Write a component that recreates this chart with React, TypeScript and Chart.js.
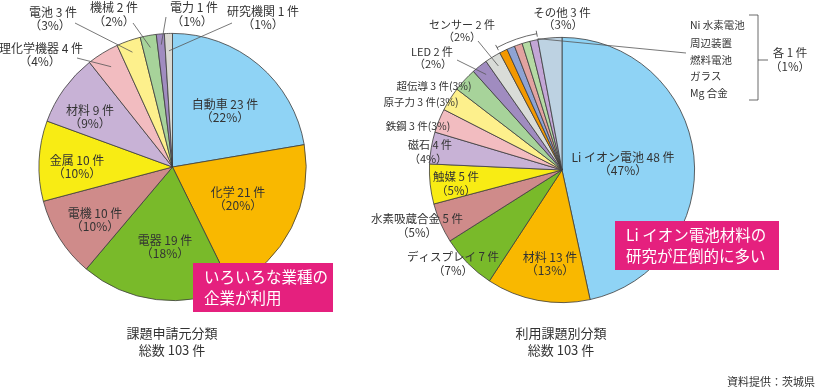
import { useEffect, useRef } from 'react';
import { Chart, registerables } from 'chart.js';
Chart.register(...registerables);

// ---------- data ----------
const leftCategories = ['自動車', '化学', '電器', '電機', '金属', '材料', '理化学機器', '電池', '機械', '電力', '研究機関'];
const leftCounts = [23, 21, 19, 10, 10, 9, 4, 3, 2, 1, 1];
const leftPercents = [22, 20, 18, 10, 10, 9, 4, 3, 2, 1, 1];
const leftColors = ['#8fd3f5', '#f9b800', '#79ba2a', '#cf8b8a', '#f8ec14', '#c8b2d6', '#f2bcc0', '#fdf08c', '#a7d39a', '#a08cc0', '#d9d9d3'];

const rightCategories = ['Li イオン電池', '材料', 'ディスプレイ', '水素吸蔵合金', '触媒', '磁石', '鉄鋼', '原子力', '超伝導', 'LED', 'センサー', 'Ni 水素電池', '周辺装置', '燃料電池', 'ガラス', 'Mg 合金', 'その他'];
const rightCounts = [48, 13, 7, 5, 5, 4, 3, 3, 3, 2, 2, 1, 1, 1, 1, 1, 3];
const rightPercents = [47, 13, 7, 5, 5, 4, 3, 3, 3, 2, 2, 1, 1, 1, 1, 1, 3];
const rightColors = ['#8fd3f5', '#f9b800', '#79ba2a', '#cf8b8a', '#f8ec14', '#c8b2d6', '#f2bcc0', '#fdf08c', '#a7d39a', '#a08cc0', '#d9dcd8', '#f39800', '#8ea3d3', '#e2a3a0', '#b5daa3', '#c3a6d6', '#bdd2e2'];

const leftTitle = '課題申請元分類';
const rightTitle = '利用課題別分類';
const leftNote = ['いろいろな業種の', '企業が利用'];
const rightNote = ['Li イオン電池材料の', '研究が圧倒的に多い'];
const sourceText = '資料提供：茨城県';

// ---------- layout (positions only) ----------
const FONT = '"Noto Sans CJK JP", "Noto Sans", sans-serif';
const TEXT = '#333333';
const PINK = '#e5207e';

type Lbl = { index: number; x: number; y: number; px?: number; gap?: number; size: number; oneLine?: boolean; leader?: { from: [number, number]; frac: number } };

const leftLayout: Lbl[] = [
  { index: 0, x: 225, y: 104, size: 12 },
  { index: 1, x: 238, y: 192, size: 12 },
  { index: 2, x: 165, y: 240, size: 12 },
  { index: 3, x: 95, y: 213, size: 12 },
  { index: 4, x: 77, y: 160, size: 12 },
  { index: 5, x: 90, y: 110, size: 12 },
  { index: 6, x: 41, y: 48, px: 40, size: 12, leader: { from: [77, 58], frac: 0.88 } },
  { index: 7, x: 53, y: 12, px: 50, size: 12, leader: { from: [75, 23], frac: 0.91 } },
  { index: 8, x: 114, y: 7.5, size: 12, leader: { from: [133, 23], frac: 0.91 } },
  { index: 9, x: 194, y: 7.5, px: 192, size: 12, leader: { from: [166, 17], frac: 0.92 } },
  { index: 10, x: 263, y: 11, size: 12, leader: { from: [232, 23], frac: 0.87 } },
];

const rightLayout: Lbl[] = [
  { index: 0, x: 623, y: 157, size: 12 },
  { index: 1, x: 550, y: 257, size: 12 },
  { index: 2, x: 453, y: 257, size: 11.5 },
  { index: 3, x: 417, y: 219, size: 11.5 },
  { index: 4, x: 456, y: 177, size: 11.5 },
  { index: 5, x: 430, y: 145, px: 428, size: 11 },
  { index: 6, x: 418, y: 126, size: 10.5, oneLine: true },
  { index: 7, x: 421, y: 102, size: 10.5, oneLine: true },
  { index: 8, x: 434, y: 86, size: 10.5, oneLine: true },
  { index: 9, x: 432, y: 52, px: 433, gap: 12, size: 11, leader: { from: [457, 60], frac: 0.92 } },
  { index: 10, x: 462, y: 25, gap: 12, size: 11, leader: { from: [478, 41], frac: 0.92 } },
  { index: 16, x: 562, y: 13, px: 563, gap: 12, size: 11.5 },
];

const listIndices = [11, 12, 13, 14, 15];
const listX = 690;
const listY = [25, 43, 60, 76, 93];

function arcProps(arc: any) {
  return arc.getProps(['x', 'y', 'startAngle', 'endAngle', 'outerRadius'], true);
}

function arcPoint(arc: any, frac: number): [number, number] {
  const p = arcProps(arc);
  const a = (p.startAngle + p.endAngle) / 2;
  const r = p.outerRadius * frac;
  return [p.x + Math.cos(a) * r, p.y + Math.sin(a) * r];
}

function line(ctx: CanvasRenderingContext2D, x1: number, y1: number, x2: number, y2: number) {
  ctx.beginPath();
  ctx.moveTo(x1, y1);
  ctx.lineTo(x2, y2);
  ctx.stroke();
}

function makePlugin(
  id: string,
  cats: string[], counts: number[], pcts: number[], layout: Lbl[],
  title: string, note: string[], box: { x: number; y: number; w: number; h: number }, titleX: number,
  extra?: (ctx: CanvasRenderingContext2D, arcs: any[]) => void
) {
  return {
    id,
    afterDraw(chart: any) {
      const ctx: CanvasRenderingContext2D = chart.ctx;
      const arcs = chart.getDatasetMeta(0).data;
      ctx.save();
      ctx.textAlign = 'center';
      ctx.textBaseline = 'middle';
      ctx.strokeStyle = '#555';
      ctx.lineWidth = 0.8;
      layout.forEach((l) => {
        const i = l.index;
        ctx.fillStyle = TEXT;
        ctx.font = `${l.size}px ${FONT}`;
        const name = `${cats[i]} ${counts[i]} 件`;
        if (l.oneLine) {
          ctx.fillText(`${name}(${pcts[i]}%)`, l.x, l.y);
        } else {
          ctx.fillText(name, l.x, l.y);
          ctx.fillText(`（${pcts[i]}%）`, l.px ?? l.x, l.y + (l.gap ?? 13.5));
        }
        if (l.leader) {
          const [ex, ey] = arcPoint(arcs[i], l.leader.frac);
          line(ctx, l.leader.from[0], l.leader.from[1], ex, ey);
        }
      });
      if (extra) extra(ctx, arcs);

      // note box
      ctx.fillStyle = PINK;
      ctx.fillRect(box.x, box.y, box.w, box.h);
      ctx.fillStyle = '#ffffff';
      ctx.textAlign = 'left';
      ctx.font = `15.5px ${FONT}`;
      ctx.fillText(note[0], box.x + 11, box.y + 14);
      ctx.fillText(note[1], box.x + 11, box.y + 35);

      // title
      const total = counts.reduce((a, b) => a + b, 0);
      ctx.fillStyle = TEXT;
      ctx.textAlign = 'center';
      ctx.font = `13px ${FONT}`;
      ctx.fillText(title, titleX, 333);
      ctx.fillText(`総数 ${total} 件`, titleX, 350);
      ctx.restore();
    },
  };
}

const rightExtra = (ctx: CanvasRenderingContext2D, arcs: any[]) => {
  const first = arcProps(arcs[listIndices[0]]);
  const last = arcProps(arcs[listIndices[listIndices.length - 1]]);
  const cx = first.x, cy = first.y, R = first.outerRadius + 6;
  ctx.strokeStyle = '#444';
  ctx.lineWidth = 0.8;
  ctx.beginPath();
  ctx.arc(cx, cy, R, first.startAngle, last.endAngle);
  ctx.stroke();
  [first.startAngle, last.endAngle].forEach((a) => {
    line(ctx, cx + Math.cos(a) * (R - 3), cy + Math.sin(a) * (R - 3), cx + Math.cos(a) * (R + 3), cy + Math.sin(a) * (R + 3));
  });
  // leader from group to list
  const a = last.endAngle;
  const r0 = first.outerRadius + 1;
  ctx.strokeStyle = '#555';
  line(ctx, cx + Math.cos(a) * r0, cy + Math.sin(a) * r0, 686, 53);

  // list
  ctx.fillStyle = TEXT;
  ctx.textAlign = 'left';
  ctx.font = `10.5px ${FONT}`;
  listIndices.forEach((idx, k) => ctx.fillText(rightCategories[idx], listX, listY[k]));
  // bracket
  ctx.strokeStyle = '#444';
  ctx.beginPath();
  ctx.moveTo(749, 15);
  ctx.lineTo(758, 15);
  ctx.lineTo(758, 100);
  ctx.lineTo(749, 100);
  ctx.stroke();
  line(ctx, 758, 60, 768, 60);
  ctx.textAlign = 'center';
  ctx.font = `11.5px ${FONT}`;
  ctx.fillText(`各 ${rightCounts[listIndices[0]]} 件`, 790, 53);
  ctx.fillText(`（${rightPercents[listIndices[0]]}%）`, 790, 67);
  // source
  ctx.textAlign = 'right';
  ctx.font = `11px ${FONT}`;
  ctx.fillText(sourceText, 815, 382);
};

function buildChart(canvas: HTMLCanvasElement, cats: string[], counts: number[], colors: string[], padding: any, plugin: any) {
  return new Chart(canvas, {
    type: 'pie',
    data: {
      labels: cats,
      datasets: [{ data: counts, backgroundColor: colors, borderColor: '#3c3c3c', borderWidth: 0.8 }],
    },
    options: {
      responsive: false,
      animation: false,
      layout: { padding },
      plugins: { legend: { display: false }, tooltip: { enabled: false } },
    },
    plugins: [plugin],
  } as any);
}

export default function App() {
  const leftRef = useRef<HTMLCanvasElement>(null);
  const rightRef = useRef<HTMLCanvasElement>(null);
  useEffect(() => {
    document.body.style.margin = '0';
    const c1 = buildChart(
      leftRef.current!, leftCategories, leftCounts, leftColors,
      { left: 38, right: 509, top: 33, bottom: 89 },
      makePlugin('leftLabels', leftCategories, leftCounts, leftPercents, leftLayout, leftTitle, leftNote, { x: 193, y: 263, w: 140, h: 49 }, 172)
    );
    const c2 = buildChart(
      rightRef.current!, rightCategories, rightCounts, rightColors,
      { left: 429, right: 121, top: 37, bottom: 87 },
      makePlugin('rightLabels', rightCategories, rightCounts, rightPercents, rightLayout, rightTitle, rightNote, { x: 615, y: 221, w: 164, h: 49 }, 561, rightExtra)
    );
    return () => {
      c1.destroy();
      c2.destroy();
    };
  }, []);
  const cs: any = { position: 'absolute', left: 0, top: 0 };
  return (
    <div style={{ position: 'absolute', left: 0, top: 0, width: 816, height: 390, background: '#fff' }}>
      <canvas ref={leftRef} width={816} height={390} style={cs} />
      <canvas ref={rightRef} width={816} height={390} style={cs} />
    </div>
  );
}
